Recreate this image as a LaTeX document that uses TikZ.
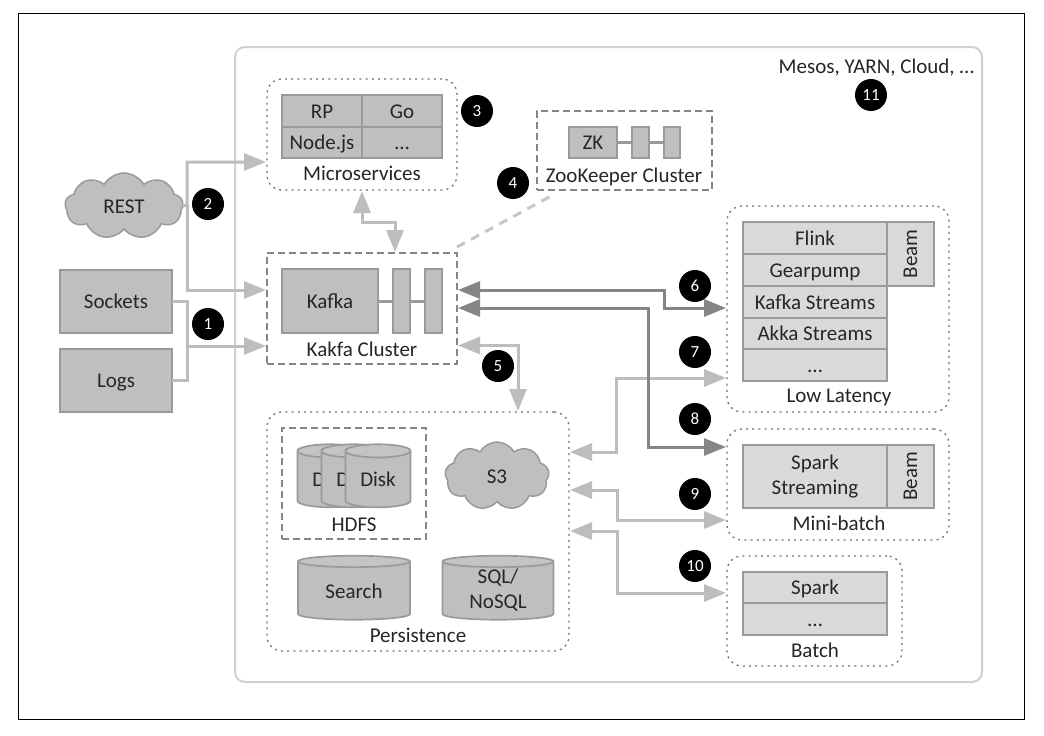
\documentclass[tikz,border=0pt]{standalone}
\usepackage{fontspec}
\setmainfont{Carlito}
\usetikzlibrary{arrows.meta,shapes.geometric,shapes.symbols}
\definecolor{txt}{HTML}{262626}
\definecolor{fillA}{HTML}{BFBFBF}
\definecolor{fillB}{HTML}{D9D9D9}
\definecolor{edgeA}{HTML}{9A9A9A}
\definecolor{arrowL}{HTML}{BDBDBD}
\definecolor{arrowD}{HTML}{858585}
\newcommand{\txtstrut}{\rule[-4.5pt]{0pt}{23.6pt}}
\tikzset{
  every node/.style={font=\fontsize{21}{25}\selectfont,text=txt,inner sep=0pt,outer sep=0pt},
  strutted/.style={execute at begin node={\txtstrut}},
  cellbox/.style={draw=edgeA,fill=fillA,line width=1.7pt,align=center,strutted},
  lightbox/.style={draw=edgeA,fill=fillB,line width=1.7pt,align=center,strutted},
  beambox/.style={draw=edgeA,fill=fillB,line width=1.7pt,align=center},
  caption/.style={strutted},
  dotbox/.style={draw=black!55,line width=1.3pt,dash pattern=on 2pt off 4.2pt,rounded corners=15pt},
  dashbox/.style={draw=black!48,line width=1.5pt,dash pattern=on 7pt off 4pt},
  badge/.style={circle,fill=black,minimum size=32pt,text=white,font=\fontsize{17}{19}\selectfont},
  diskshape/.style={cylinder,shape border rotate=90,cylinder uses custom fill,cylinder body fill=fillA,cylinder end fill=fillA!92!white,draw=edgeA,line width=1.7pt,align=center,strutted},
  cloudshape/.style={cloud,cloud puffs=9,cloud puff arc=120,aspect=2,draw=edgeA,fill=fillA,line width=1.5pt,strutted},
  conn/.style={draw=arrowL,line width=3pt},
  connD/.style={draw=arrowD,line width=3pt},
  tipR/.style={-{Triangle[length=22pt,width=17pt]}},
  tipB/.style={{Triangle[length=22pt,width=17pt]}-{Triangle[length=22pt,width=17pt]}}
}
% name, x1, y1, x2, y2, style, text
\newcommand{\pxbox}[7]{%
  \pgfmathsetmacro{\pxcx}{(#2+#4)/2}%
  \pgfmathsetmacro{\pxcy}{(#3+#5)/2}%
  \pgfmathsetmacro{\pxw}{#4-#2}%
  \pgfmathsetmacro{\pxh}{#5-#3}%
  \node[#6,minimum width=\pxw pt,minimum height=\pxh pt] (#1) at (\pxcx,\pxcy) {#7};%
}
\begin{document}
\begin{tikzpicture}[x=1pt,y=-1pt]
\useasboundingbox (0,0) rectangle (1044,736);
\fill[white] (0,0) rectangle (1044,736);
\pxbox{frame}{18}{13}{1024}{719}{draw=black,line width=1pt}{}
\pxbox{platform}{235}{47}{982}{682}{draw=black!18,line width=2pt,rounded corners=10pt}{}
\node[anchor=east,caption] (platformlbl) at (974,66) {Mesos, YARN, Cloud, …};
% containers
\pxbox{micro}{267}{79}{457}{190}{dotbox}{}
\pxbox{kafkac}{267}{253}{457}{364}{dashbox}{}
\pxbox{zkc}{537}{111}{712}{190}{dashbox}{}
\pxbox{low}{727}{206}{949}{412}{dotbox}{}
\pxbox{mini}{727}{429}{949}{540}{dotbox}{}
\pxbox{batch}{727}{556}{902}{666}{dotbox}{}
\pxbox{persist}{267}{412}{569}{651}{dotbox}{}
\pxbox{hdfs}{282}{428}{426}{539}{dashbox}{}
% sources
\pxbox{sockets}{60}{270}{172}{333}{cellbox}{Sockets}
\pxbox{logs}{60}{349}{172}{412}{cellbox}{Logs}
\node[cloudshape,minimum width=118pt,minimum height=66pt] (rest) at (124,206) {REST};
% microservices
\pxbox{rp}{282}{95}{362}{127}{cellbox}{RP}
\pxbox{go}{362}{95}{442}{127}{cellbox}{Go}
\pxbox{node}{282}{127}{362}{158}{cellbox}{Node.js}
\pxbox{more}{362}{127}{442}{158}{cellbox}{…}
\node[caption] (microlbl) at (362,173) {Microservices};
% kafka
\pxbox{kafkalink}{378}{299.5}{425}{302.5}{fill=edgeA}{}
\pxbox{kafka}{282}{269}{378}{333}{cellbox}{Kafka}
\pxbox{kbarA}{393}{269}{410}{333}{cellbox}{}
\pxbox{kbarB}{425}{269}{442}{333}{cellbox}{}
\node[caption] (kafkalbl) at (362,349) {Kakfa Cluster};
% zookeeper
\pxbox{zklink}{617}{141}{664}{144}{fill=edgeA}{}
\pxbox{zk}{569}{127}{617}{158}{cellbox}{ZK}
\pxbox{zbarA}{632}{127}{649}{158}{cellbox}{}
\pxbox{zbarB}{664}{127}{680}{158}{cellbox}{}
\node[caption] (zklbl) at (624,175) {ZooKeeper Cluster};
% low latency
\pxbox{flink}{743}{222}{887}{254}{lightbox}{Flink}
\pxbox{gear}{743}{254}{887}{286}{lightbox}{Gearpump}
\pxbox{kstreams}{743}{286}{887}{318}{lightbox}{Kafka Streams}
\pxbox{akka}{743}{318}{887}{349}{lightbox}{Akka Streams}
\pxbox{lowmore}{743}{349}{887}{381}{lightbox}{…}
\pxbox{beamA}{887}{222}{934}{286}{beambox}{\rotatebox{90}{Beam}}
\node[caption] (lowlbl) at (839,395) {Low Latency};
% mini-batch
\pxbox{spark}{743}{445}{887}{508}{lightbox}{Spark\\Streaming}
\pxbox{beamB}{887}{445}{934}{508}{beambox}{\rotatebox{90}{Beam}}
\node[caption] (minilbl) at (839,523) {Mini-batch};
% batch
\pxbox{sparkb}{743}{572}{887}{603}{lightbox}{Spark}
\pxbox{batchmore}{743}{603}{887}{635}{lightbox}{…}
\node[caption] (batchlbl) at (815,650) {Batch};
% persistence
\node[diskshape,minimum width=65pt,minimum height=63pt,aspect=0.37] (diskA) at (330,479.5) {Disk};
\node[diskshape,minimum width=65pt,minimum height=63pt,aspect=0.37] (diskB) at (354,479.5) {Disk};
\node[diskshape,minimum width=65pt,minimum height=63pt,aspect=0.37] (diskC) at (378,479.5) {Disk};
\node[caption] (hdfslbl) at (354,524) {HDFS};
\node[cloudshape,minimum width=104pt,minimum height=68pt] (s3) at (497,476) {S3};
\node[diskshape,minimum width=112pt,minimum height=64pt,aspect=0.2] (search) at (354,591) {Search};
\node[diskshape,minimum width=111pt,minimum height=64pt,aspect=0.2] (sql) at (498,591) {SQL/\\NoSQL};
\node[caption] (persistlbl) at (418,635) {Persistence};
% connector ends
\coordinate (microA) at (266,162);
\coordinate (kafkaA) at (266,290);
\coordinate (kafkaB) at (266,346);
\coordinate (bus) at (187,346);
\coordinate (microS) at (362,191);
\coordinate (kafkaN) at (395,252);
\coordinate (kafkaE1) at (458,290);
\coordinate (kafkaE2) at (458,308);
\coordinate (kafkaE3) at (458,345.5);
\coordinate (persistN) at (518,411);
\coordinate (lowW1) at (726,308);
\coordinate (lowW2) at (726,378);
\coordinate (miniW1) at (726,447);
\coordinate (miniW2) at (726,520);
\coordinate (batchW) at (726,593);
\coordinate (persE1) at (570,452);
\coordinate (persE2) at (570,490);
\coordinate (persE3) at (570,531);
\coordinate (zkend) at (553,195);
\coordinate (kafkaNE) at (457,247);
% connectors
\draw[conn] (sockets.east) -- ++(15,0) |- (logs.east);
\draw[conn,tipR] (bus) -- (kafkaB);
\draw[conn,tipR] (rest.east) -- (187,205) |- (microA);
\draw[conn,tipR] (187,205) |- (kafkaA);
\draw[conn,tipB] (microS) |- (378.5,222) -| (kafkaN);
\draw[draw=arrowL!85!white,line width=3pt,dash pattern=on 9pt off 7pt] (kafkaNE) -- (zkend);
\draw[conn,tipB] (kafkaE3) -| (persistN);
\draw[conn,tipB] (persE1) -- (616,452) |- (lowW2);
\draw[conn,tipB] (persE2) -- (617,490) |- (miniW2);
\draw[conn,tipB] (persE3) -- (617,531) |- (batchW);
\draw[connD,tipB] (kafkaE1) -- (664,290) |- (lowW1);
\draw[connD,tipB] (kafkaE2) -- (648,308) |- (miniW1);
% badges
\node[badge] (b1) at (208,324) {1};
\node[badge] (b2) at (208,204) {2};
\node[badge] (b3) at (477,111) {3};
\node[badge] (b4) at (513,183) {4};
\node[badge] (b5) at (498,366) {5};
\node[badge] (b6) at (695,286) {6};
\node[badge] (b7) at (695,352) {7};
\node[badge] (b8) at (695,419) {8};
\node[badge] (b9) at (695,494) {9};
\node[badge] (b10) at (695,566) {10};
\node[badge] (b11) at (871,95) {11};
\end{tikzpicture}
\end{document}
